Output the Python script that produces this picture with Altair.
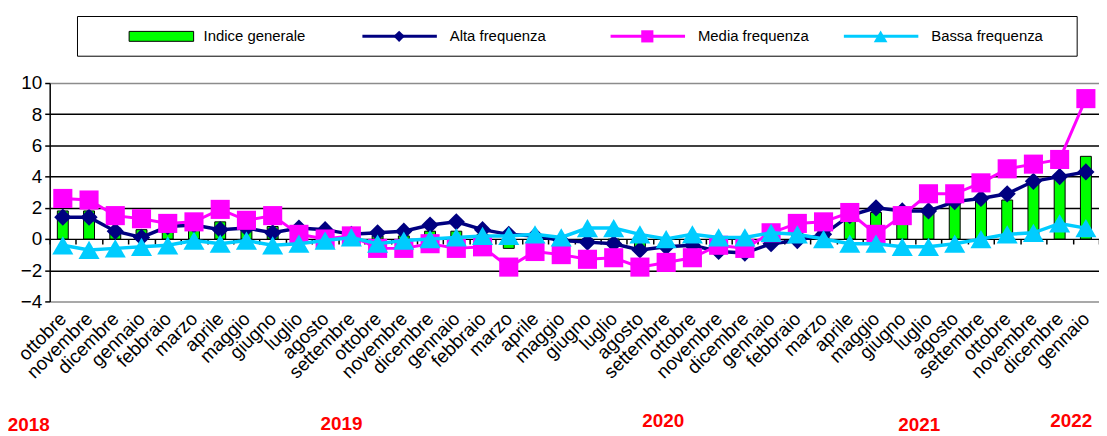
import altair as alt
import pandas as pd

# ---- data ----
mesi = ["ottobre", "novembre", "dicembre",
        "gennaio", "febbraio", "marzo", "aprile", "maggio", "giugno",
        "luglio", "agosto", "settembre", "ottobre", "novembre", "dicembre",
        "gennaio", "febbraio", "marzo", "aprile", "maggio", "giugno",
        "luglio", "agosto", "settembre", "ottobre", "novembre", "dicembre",
        "gennaio", "febbraio", "marzo", "aprile", "maggio", "giugno",
        "luglio", "agosto", "settembre", "ottobre", "novembre", "dicembre",
        "gennaio"]
anni = [2018] * 3 + [2019] * 12 + [2020] * 12 + [2021] * 12 + [2022]

indice = [1.8, 1.8, 0.7, 0.6, 0.5, 0.6, 1.1, 0.9, 0.8, 0.4,
          0.4, 0.3, 0.2, 0.2, 0.5, 0.5, 0.3, -0.6, -0.2, -0.3,
          -0.3, -0.4, -0.5, -0.4, -0.3, -0.2, -0.3, 0.2, 0.5, 0.6,
          1.2, 1.7, 1.4, 1.9, 2.3, 2.6, 2.5, 3.8, 4.0, 5.3]
alta = [1.4, 1.4, 0.5, 0.1, 0.8, 0.9, 0.6, 0.7, 0.4, 0.7,
        0.6, 0.3, 0.4, 0.5, 0.9, 1.1, 0.6, 0.3, 0.2, -0.1,
        -0.2, -0.3, -0.7, -0.5, -0.4, -0.8, -0.9, -0.3, -0.1, 0.3,
        1.5, 2.0, 1.8, 1.8, 2.4, 2.6, 2.9, 3.7, 4.0, 4.3]
media = [2.6, 2.5, 1.5, 1.3, 1.0, 1.1, 1.9, 1.2, 1.5, 0.3,
         0.0, 0.2, -0.6, -0.6, -0.3, -0.6, -0.5, -1.8, -0.8, -1.0,
         -1.3, -1.2, -1.8, -1.5, -1.2, -0.4, -0.6, 0.4, 1.0, 1.1,
         1.7, 0.3, 1.5, 2.9, 2.9, 3.6, 4.5, 4.8, 5.1, 9.0]
bassa = [-0.4, -0.7, -0.6, -0.5, -0.4, -0.1, -0.3, -0.1, -0.4, -0.3,
         -0.1, 0.1, -0.3, -0.1, 0.0, 0.1, 0.2, 0.2, 0.3, 0.1,
         0.7, 0.7, 0.3, 0.0, 0.3, 0.1, 0.1, 0.4, 0.3, 0.0,
         -0.3, -0.3, -0.5, -0.5, -0.3, 0.0, 0.3, 0.4, 1.0, 0.7]

serie = ["Indice generale", "Alta frequenza", "Media frequenza", "Bassa frequenza"]
anni_etichette = ["2018", "2019", "2020", "2021", "2022"]
y_ticks = [-4, -2, 0, 2, 4, 6, 8, 10]

# ---- styles ----
FONT = "Liberation Sans"
VERDE = "#00FF00"
NAVY = "#000080"
MAGENTA = "#FF00FF"
CIANO = "#00CCFF"
W, H = 1057, 220

periodi = [f"{m} {a}" for m, a in zip(mesi, anni)]
df = pd.DataFrame({"periodo": periodi, "indice": indice, "alta": alta,
                   "media": media, "bassa": bassa})

x_axis = alt.Axis(
    title=None, orient="bottom", offset=-(H * 4 / 14), domain=False,
    ticks=True, tickBand="extent", tickColor="black", tickWidth=1.5, tickSize=5,
    labelAngle=-45, labelAlign="right", labelBaseline="middle",
    labelPadding=72, labelFont=FONT, labelFontSize=19, labelColor="black",
    labelOverlap=False, labelBound=False,
    labelExpr="split(datum.label, ' ')[0]")
x_enc = alt.X("periodo:N", sort=None,
              scale=alt.Scale(type="band", domain=periodi, paddingInner=0, paddingOuter=0),
              axis=x_axis)

y_axis = alt.Axis(
    title=None, values=y_ticks, grid=True,
    gridColor={"condition": {"test": "datum.value == 10 || datum.value == -4",
                             "value": "#8c8c8c"}, "value": "#000000"},
    gridWidth=1.5, domainColor="black", domainWidth=1.5,
    tickColor="black", tickWidth=1.5, tickSize=5,
    labelFont=FONT, labelFontSize=19, labelColor="black", labelPadding=3)
y_scale = alt.Scale(domain=[-4, 10], nice=False, zero=False)


def yy(field):
    return alt.Y(f"{field}:Q", scale=y_scale, axis=y_axis)


base = alt.Chart(df)
bars = base.mark_bar(size=11, color=VERDE, stroke="black", strokeWidth=1).encode(
    x=x_enc, y=yy("indice"), y2=alt.datum(0))

layers = [bars]
for field, col, shape, size, sw in [("alta", NAVY, "diamond", 300, 3.5),
                                    ("media", MAGENTA, "square", 370, 3),
                                    ("bassa", CIANO, "triangle-up", 450, 3.5)]:
    layers.append(base.mark_line(color=col, strokeWidth=sw).encode(x=x_enc, y=yy(field)))
    layers.append(base.mark_point(shape=shape, filled=True, size=size, color=col,
                                  opacity=1).encode(x=x_enc, y=yy(field)))

# ---- legend box (decoration) ----
one = pd.DataFrame({"t": [0]})
LY = -47
layers.append(alt.Chart(one).mark_rect(fill="white", stroke="black", strokeWidth=1).encode(
    x=alt.value(28), x2=alt.value(1035), y=alt.value(-67), y2=alt.value(-27)))
layers.append(alt.Chart(one).mark_rect(fill=VERDE, stroke="black", strokeWidth=1).encode(
    x=alt.value(80), x2=alt.value(145), y=alt.value(LY - 5), y2=alt.value(LY + 5)))
leg_pos = [(315, 390, 352, 403), (565, 640, 602, 653), (800, 875, 837, 888)]
leg_sty = [(NAVY, "diamond", 130), (MAGENTA, "square", 150), (CIANO, "triangle-up", 190)]
for (x1, x2, xm, xt), (col, shape, size) in zip(leg_pos, leg_sty):
    layers.append(alt.Chart(one).mark_rule(color=col, strokeWidth=3).encode(
        x=alt.value(x1), x2=alt.value(x2), y=alt.value(LY)))
    layers.append(alt.Chart(one).mark_point(shape=shape, filled=True, size=size, color=col,
                                            opacity=1).encode(x=alt.value(xm), y=alt.value(LY)))
text_x = [155] + [p[3] for p in leg_pos]
for name, xt in zip(serie, text_x):
    layers.append(alt.Chart(pd.DataFrame({"label": [name]})).mark_text(
        align="left", baseline="middle", font=FONT, fontSize=15, color="black").encode(
        x=alt.value(xt), y=alt.value(LY), text="label:N"))

# ---- year annotations ----
anno_pos = [(-21, 345), (294, 344), (618, 340), (876, 345), (1029, 340)]
for lab, (xa, ya) in zip(anni_etichette, anno_pos):
    layers.append(alt.Chart(pd.DataFrame({"label": [lab]})).mark_text(
        align="center", baseline="middle", font=FONT, fontSize=19, fontWeight="bold",
        color="#FF0000").encode(x=alt.value(xa), y=alt.value(ya), text="label:N"))

chart = alt.layer(*layers).properties(
    width=W, height=H,
    autosize=alt.AutoSizeParams(type="none"),
    padding={"left": 42, "top": 74, "right": 0, "bottom": 134},
    background="white",
).configure_view(stroke=None)

chart.save("out.html", embed_options={"renderer": "svg", "actions": False})
